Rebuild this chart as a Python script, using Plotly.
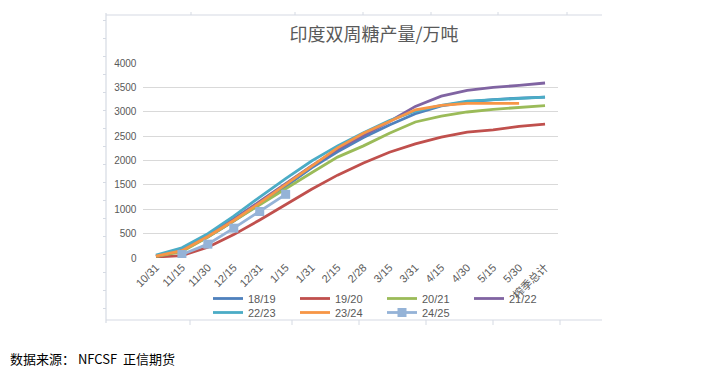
import plotly.graph_objects as go

categories = ["10/31", "11/15", "11/30", "12/15", "12/31", "1/15", "1/31", "2/15", "2/28",
              "3/15", "3/31", "4/15", "4/30", "5/15", "5/30", "榨季总计"]

s1819 = [40, 150, 430, 760, 1110, 1470, 1850, 2180, 2470, 2730, 2960, 3120, 3200, 3250, 3280, 3300]
s1920 = [20, 50, 220, 480, 780, 1100, 1410, 1700, 1950, 2170, 2340, 2480, 2580, 2630, 2700, 2745]
s2021 = [30, 130, 430, 760, 1100, 1420, 1750, 2070, 2300, 2560, 2790, 2910, 2995, 3050, 3090, 3125]
s2122 = [40, 160, 470, 800, 1160, 1520, 1890, 2230, 2520, 2800, 3110, 3320, 3440, 3500, 3540, 3590]
s2223 = [60, 210, 500, 860, 1250, 1630, 1990, 2300, 2570, 2820, 3010, 3130, 3220, 3250, 3280, 3300]
s2324 = [40, 150, 440, 770, 1130, 1510, 1890, 2260, 2560, 2800, 3040, 3130, 3170, 3170, 3170, None]
s2425 = [None, 71, 284, 612, 954, 1306, None, None, None, None, None, None, None, None, None, None]

series = [
    ("18/19", s1819, "#4F81BD", "legend"),
    ("19/20", s1920, "#C0504D", "legend"),
    ("20/21", s2021, "#9BBB59", "legend"),
    ("21/22", s2122, "#8064A2", "legend"),
    ("22/23", s2223, "#4BACC6", "legend2"),
    ("23/24", s2324, "#F79646", "legend2"),
]

fig = go.Figure()
for name, vals, col, lg in series:
    fig.add_trace(go.Scatter(x=categories, y=vals, name=name, mode="lines", legend=lg,
                             line=dict(color=col, width=2.8), connectgaps=False))
fig.add_trace(go.Scatter(x=categories, y=s2425, name="24/25", mode="lines+markers", legend="legend2",
                         line=dict(color="#95B3D7", width=2.8),
                         marker=dict(symbol="square", size=9, color="#95B3D7")))

W, H = 709, 370
L, R, T, B = 143, 151, 63, 112
pw, ph = W - L - R, H - T - B

def px(x):
    return (x - L) / pw

def py(y):
    return (H - B - y) / ph

frame_col = "#D5DAE3"
shapes = []
shapes.append(dict(type="line", xref="paper", yref="paper", x0=px(106), x1=px(602), y0=py(15), y1=py(15),
                   line=dict(color=frame_col, width=1.2)))
shapes.append(dict(type="line", xref="paper", yref="paper", x0=px(106), x1=px(602), y0=py(320), y1=py(320),
                   line=dict(color=frame_col, width=1.2)))
shapes.append(dict(type="line", xref="paper", yref="paper", x0=px(106), x1=px(106), y0=py(13), y1=py(323),
                   line=dict(color=frame_col, width=1.2)))
for tx in [191, 295, 363, 431, 498, 567]:
    shapes.append(dict(type="line", xref="paper", yref="paper", x0=px(tx), x1=px(tx), y0=py(12), y1=py(15),
                       line=dict(color=frame_col, width=1)))
for tx in [190, 292, 359, 426, 493, 560]:
    shapes.append(dict(type="line", xref="paper", yref="paper", x0=px(tx), x1=px(tx), y0=py(320), y1=py(325),
                       line=dict(color=frame_col, width=1)))
yy = 20.5
while yy < 320:
    shapes.append(dict(type="line", xref="paper", yref="paper", x0=px(103), x1=px(106), y0=py(yy), y1=py(yy),
                       line=dict(color=frame_col, width=1)))
    yy += 18

legend_common = dict(orientation="h", xanchor="left", yanchor="top",
                     entrywidth=42, entrywidthmode="pixels", itemwidth=30, tracegroupgap=0,
                     font=dict(size=11, color="#595959", family="Liberation Sans"),
                     bgcolor="rgba(0,0,0,0)")

fig.update_layout(
    width=W, height=H,
    margin=dict(l=L, r=R, t=T, b=B),
    paper_bgcolor="white", plot_bgcolor="white",
    font=dict(family="Liberation Sans, Noto Sans CJK SC", color="#595959", size=10),
    title=dict(text="印度双周糖产量/万吨", x=374 / W, xanchor="center", y=1 - 35 / H, yanchor="middle",
               font=dict(family="Noto Sans CJK SC", size=18, color="#595959")),
    xaxis=dict(type="category", range=[-0.5, 15.5], tickangle=-45, showgrid=False, showline=False,
               ticks="", tickfont=dict(size=11, family="Liberation Sans, Noto Sans CJK SC", color="#595959")),
    yaxis=dict(range=[0, 4000], dtick=500, showgrid=True, gridcolor="#D9D9D9", gridwidth=1,
               zeroline=False, showline=False, ticks="", ticksuffix="  ",
               tickfont=dict(size=10, color="#595959")),
    legend=dict(x=px(208), y=py(284), **legend_common),
    legend2=dict(x=px(208), y=py(298), **legend_common),
    shapes=shapes,
    showlegend=True,
)
fig.add_annotation(text="数据来源： NFCSF  正信期货", xref="paper", yref="paper", x=px(8), y=py(358),
                   xanchor="left", yanchor="middle", showarrow=False,
                   font=dict(family="Noto Sans CJK SC", size=13, color="#000000"))

fig.write_html("out.html", config={"displayModeBar": False},
               post_script="document.body.style.margin='0';document.body.style.padding='0';")
